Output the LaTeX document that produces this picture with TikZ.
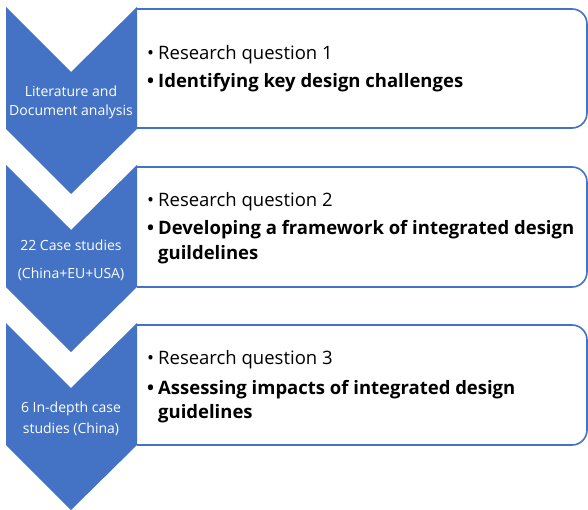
\documentclass[tikz,border=0pt]{standalone}
\usepackage{fontspec}
\setmainfont{Open Sans}
\definecolor{offblue}{HTML}{4472C4}
\newcommand{\bul}{\makebox[11pt][l]{•}}
\begin{document}
\begin{tikzpicture}[x=1pt,y=-1pt,
  chev/.style={fill=offblue,draw=none},
  qbox/.style={draw=offblue,line width=1.6pt,fill=white,rounded corners=15pt},
  ctext/.style={text=white,anchor=base,inner sep=0pt,font=\fontsize{14}{16}\selectfont},
  qtext/.style={anchor=base west,inner sep=0pt,font=\fontsize{18.5}{22}\selectfont,text=black},
  btext/.style={anchor=base west,inner sep=0pt,font=\fontsize{18.5}{22}\selectfont\bfseries,text=black}
]
\useasboundingbox (0,0) rectangle (588,510);
% boxes
\foreach \t/\b in {9/128,167/287,325/445}{
  \draw[qbox] (137,\t) -- (587,\t) -- (587,\b) -- (137,\b);
}
% chevrons
\foreach \t in {7,165,323}{
  \fill[chev] (6,\t) -- (71,\t+65) -- (137,\t) -- (137,\t+122) -- (71,\t+187) -- (6,\t+122) -- cycle;
}
\node[ctext] (c1a) at (71,97) {Literature and};
\node[ctext] (c1b) at (71,116) {Document analysis};
\node[ctext] (c2a) at (71,251) {22 Case studies};
\node[ctext] (c2b) at (71,278) {(China+EU+USA)};
\node[ctext] (c3a) at (71,412) {6 In-depth case};
\node[ctext] (c3b) at (71,433) {studies (China)};
% texts
\node[qtext] (r1) at (147,60) {\bul Research question 1};
\node[btext] (b1) at (147,88) {\bul Identifying key design challenges};
\node[qtext] (r2) at (147,207) {\bul Research question 2};
\node[btext] (b2) at (147,235) {\bul Developing a framework of integrated design};
\node[btext] (b2b) at (158,259) {guildelines};
\node[qtext] (r3) at (147,364) {\bul Research question 3};
\node[btext] (b3) at (147,394) {\bul Assessing impacts of integrated design};
\node[btext] (b3b) at (158,418) {guidelines};
\end{tikzpicture}
\end{document}
